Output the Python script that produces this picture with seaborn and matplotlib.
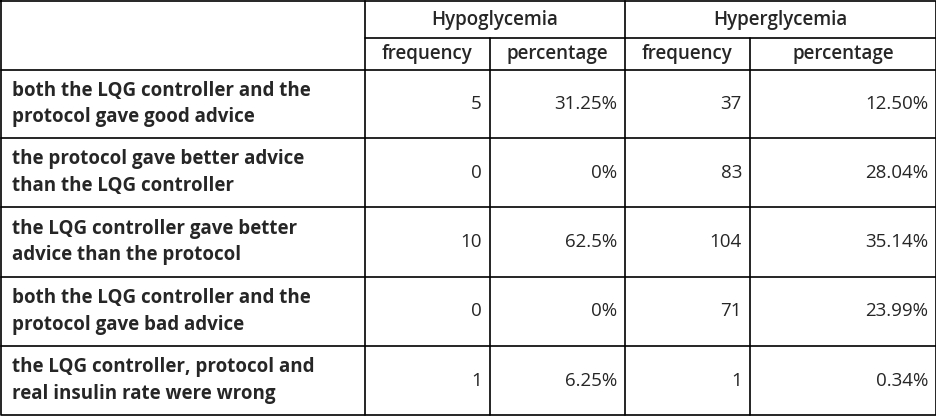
import matplotlib
matplotlib.use("Agg")
import matplotlib.pyplot as plt
import seaborn as sns

groups = ["Hypoglycemia", "Hyperglycemia"]
subheads = ["frequency", "percentage", "frequency", "percentage"]
row_labels = [
    "both the LQG controller and the\nprotocol gave good advice",
    "the protocol gave better advice\nthan the LQG controller",
    "the LQG controller gave better\nadvice than the protocol",
    "both the LQG controller and the\nprotocol gave bad advice",
    "the LQG controller, protocol and\nreal insulin rate were wrong",
]
hypo_freq = [5, 0, 10, 0, 1]
hypo_pct = ["31.25%", "0%", "62.5%", "0%", "6.25%"]
hyper_freq = [37, 83, 104, 71, 1]
hyper_pct = ["12.50%", "28.04%", "35.14%", "23.99%", "0.34%"]

sns.set_style("white")
plt.rcParams['font.family'] = ['Open Sans', 'DejaVu Sans']

W, H = 937, 416
fig = plt.figure(figsize=(W / 100, H / 100), dpi=100)
ax = fig.add_axes([0, 0, 1, 1])
ax.set_xlim(0, W)
ax.set_ylim(H, 0)
ax.axis("off")

xs = [1, 365, 490, 625, 750, 936]
ys = [1, 38, 70, 138, 207, 277, 346, 415]
lc = "black"
lw = 1.2
# outer border
ax.plot([1, 936, 936, 1, 1], [1, 1, 415, 415, 1], color=lc, lw=lw)
ax.plot([365, 936], [38, 38], color=lc, lw=lw)
for y in ys[2:-1]:
    ax.plot([1, 936], [y, y], color=lc, lw=lw)
ax.plot([365, 365], [1, 415], color=lc, lw=lw)
ax.plot([625, 625], [1, 415], color=lc, lw=lw)
for x in (490, 750):
    ax.plot([x, x], [38, 415], color=lc, lw=lw)

fs = 13.5
ax.text((365 + 625) / 2, 20, groups[0], ha="center", va="center", fontsize=fs, fontweight="semibold")
ax.text((625 + 936) / 2, 20, groups[1], ha="center", va="center", fontsize=fs, fontweight="semibold")
for i, s in enumerate(subheads):
    ax.text((xs[i + 1] + xs[i + 2]) / 2, 54, s, ha="center", va="center", fontsize=fs, fontweight="semibold")

for r in range(5):
    yc = (ys[r + 2] + ys[r + 3]) / 2
    ax.text(12, yc, row_labels[r], ha="left", va="center", fontsize=fs, fontweight="bold", linespacing=1.45)
    vals = [str(hypo_freq[r]), hypo_pct[r], str(hyper_freq[r]), hyper_pct[r]]
    for i, v in enumerate(vals):
        ax.text(xs[i + 2] - 8, yc, v, ha="right", va="center", fontsize=fs)

fig.savefig("out.png", dpi=100, facecolor="white")
